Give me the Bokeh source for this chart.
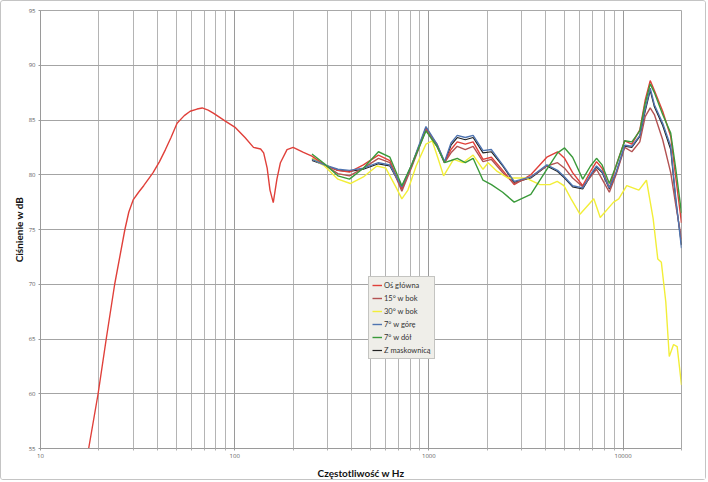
from bokeh.plotting import figure
from bokeh.models import FixedTicker, NumeralTickFormatter, Legend, LegendItem
from bokeh.embed import file_html
from bokeh.resources import INLINE

# ---------------- data ----------------
SERIES_NAMES = ["Oś główna", "15° w bok", "30° w bok", "7° w górę", "7° w dół", "Z maskownicą"]
SERIES_COLORS = ["#e0403a", "#b35252", "#f2ee38", "#4f74b0", "#3a9a3a", "#222222"]

FREQ_MAIN_LOW = [17.7, 19.8, 21.8, 24.1, 27.2, 28.5, 30, 32, 34, 38, 41, 44, 47, 50.5, 55, 59, 64, 68, 73, 78,
                 89.5, 101, 113, 125, 136, 141, 147, 152, 158, 165, 172, 186, 200, 226]
DB_MAIN_LOW = [55, 60, 65, 70, 75, 76.6, 77.7, 78.4, 79.0, 80.2, 81.2, 82.3, 83.4, 84.7, 85.4, 85.8, 86.0, 86.1, 85.9, 85.6,
               84.9, 84.3, 83.4, 82.5, 82.35, 82.0, 80.6, 78.6, 77.45, 79.6, 81.1, 82.3, 82.5, 82.05]

FREQ_HI = [250, 290, 340, 390, 460, 550, 630, 726, 820, 966, 1100, 1205, 1300, 1400, 1540, 1690,
           1900, 2100, 2400, 2750, 3350, 4050, 4600, 5000, 5500, 6200, 6800, 7300, 7800, 8500, 9200,
           10200, 11100, 12200, 13000, 13800, 14500, 16000, 17600, 18700, 20000]
DB_MAIN_HI = [81.7, 80.9, 80.4, 80.25, 80.9, 81.8, 81.3, 78.7, 81.0, 84.2, 82.8, 81.1, 82.3, 83.0, 82.8, 83.0,
              81.4, 81.6, 80.4, 79.1, 80.0, 81.6, 82.1, 81.5, 80.2, 79.0, 80.3, 81.2, 80.6, 78.8, 80.8,
              83.1, 82.8, 84.1, 86.8, 88.6, 87.7, 85.8, 83.5, 79.7, 75.6]
DB_15 = [81.5, 80.9, 80.1, 79.9, 80.6, 81.5, 81.1, 78.5, 80.8, 84.1, 82.6, 81.1, 82.0, 82.6, 82.3, 82.6,
         81.2, 81.4, 80.2, 79.2, 79.8, 80.8, 81.1, 80.6, 79.7, 78.9, 79.8, 80.5, 79.6, 78.4, 80.0,
         82.5, 82.1, 83.0, 85.3, 86.1, 85.5, 83.2, 80.2, 77.2, 74.1]
DB_UP = [81.4, 80.9, 80.5, 80.4, 80.6, 81.1, 80.9, 78.9, 81.0, 84.4, 82.8, 81.2, 82.9, 83.6, 83.4, 83.6,
         82.2, 82.3, 80.9, 79.4, 79.8, 80.9, 80.4, 79.8, 79.0, 78.8, 80.0, 80.8, 80.3, 78.8, 80.2,
         82.7, 82.6, 83.6, 86.0, 87.9, 86.4, 84.7, 82.6, 77.8, 73.3]
DB_DOWN = [81.9, 81.0, 79.9, 79.6, 80.6, 82.1, 81.6, 79.0, 81.0, 84.0, 82.6, 81.1, 81.3, 81.5, 81.1, 81.5,
           79.5, 79.1, 78.4, 77.5, 78.2, 80.5, 82.0, 82.45, 81.6, 79.6, 80.8, 81.5, 80.9, 79.2, 80.8,
           83.1, 83.0, 84.0, 86.5, 88.3, 87.5, 85.5, 83.8, 80.5, 76.5]
DB_GRILLE = [81.3, 80.9, 80.4, 80.3, 80.5, 81.0, 80.8, 78.8, 80.9, 84.3, 82.7, 81.1, 82.7, 83.4, 83.2, 83.4,
             82.0, 82.1, 80.8, 79.3, 79.7, 80.8, 80.3, 79.7, 78.9, 78.7, 79.9, 80.7, 80.2, 78.7, 80.1,
             82.6, 82.5, 83.5, 85.8, 87.7, 86.2, 84.5, 82.3, 77.6, 73.6]

FREQ_30 = [250, 290, 340, 394, 460, 540, 600, 680, 726, 780, 860, 966, 1040, 1110, 1191, 1340, 1500, 1690,
           1900, 2020, 2250, 2560, 3170, 3730, 4200, 4580, 4960, 5400, 6000, 7070, 7630, 8940, 9500,
           10450, 12070, 13200, 14290, 15100, 15750, 16600, 17300, 18200, 19000, 20000]
DB_30 = [81.5, 80.8, 79.6, 79.2, 79.8, 80.8, 80.6, 78.8, 77.8, 78.6, 80.8, 82.8, 83.1, 81.6, 79.9, 81.4, 81.1, 81.8,
         80.5, 81.1, 80.3, 79.7, 79.7, 79.1, 79.1, 79.4, 79.0, 77.8, 76.4, 77.8, 76.1, 77.5, 77.8,
         79.0, 78.6, 79.5, 76.0, 72.3, 72.0, 68.4, 63.4, 64.5, 64.3, 60.8]

Y_TICKS = [55, 60, 65, 70, 75, 80, 85, 90, 95]
X_TICKS = [10, 100, 1000, 10000]
X_MINOR = [m * d for d in (10, 100, 1000) for m in range(2, 10)] + [20000]

X_LABEL = "Częstotliwość w Hz"
Y_LABEL = "Ciśnienie w dB"

# ---------------- figure ----------------
p = figure(width=706, height=480, x_axis_type="log", x_range=(10, 20000), y_range=(55, 95),
           output_backend="svg", toolbar_location=None,
           min_border_left=39, min_border_right=26, min_border_top=9, min_border_bottom=30)
p.styles = {"border": "1px solid #c4c4c4", "border-radius": "3px"}
p.background_fill_color = "white"
p.border_fill_color = "white"
p.outline_line_color = "#a8a8a8"

p.xaxis.ticker = FixedTicker(ticks=X_TICKS, minor_ticks=X_MINOR)
p.yaxis.ticker = FixedTicker(ticks=Y_TICKS)
p.xaxis.formatter = NumeralTickFormatter(format="0")

for ax in (p.xaxis[0], p.yaxis[0]):
    ax.axis_line_color = "#9a9a9a"
    ax.major_tick_line_color = "#9a9a9a"
    ax.minor_tick_line_color = "#b0b0b0"
    ax.major_tick_in = 0
    ax.minor_tick_in = 0
    ax.major_tick_out = 2
    ax.minor_tick_out = 2
    ax.major_label_text_font = "Open Sans"
    ax.major_label_text_font_size = "6px"
    ax.major_label_text_color = "#606060"
    ax.major_label_standoff = 3
    ax.axis_label_text_font = "Lato"
    ax.axis_label_text_font_style = "bold"
    ax.axis_label_text_font_size = "10px"
    ax.axis_label_text_color = "#111111"
p.yaxis.minor_tick_out = 0
p.xaxis.axis_label_standoff = 6
p.yaxis.axis_label_standoff = 1
p.xaxis.axis_label = X_LABEL
p.yaxis.axis_label = Y_LABEL

p.xgrid.grid_line_color = "#9a9a9a"
p.xgrid.minor_grid_line_color = "#b4b4b4"
p.ygrid.grid_line_color = "#a4a4a4"

lw = 1.4
r_grille = p.line(FREQ_HI, DB_GRILLE, line_color=SERIES_COLORS[5], line_width=1.2)
r_main = p.line(FREQ_MAIN_LOW + FREQ_HI, DB_MAIN_LOW + DB_MAIN_HI, line_color=SERIES_COLORS[0], line_width=lw)
r_15 = p.line(FREQ_HI, DB_15, line_color=SERIES_COLORS[1], line_width=lw)
r_30 = p.line(FREQ_30, DB_30, line_color=SERIES_COLORS[2], line_width=lw)
r_up = p.line(FREQ_HI, DB_UP, line_color=SERIES_COLORS[3], line_width=lw)
r_down = p.line(FREQ_HI, DB_DOWN, line_color=SERIES_COLORS[4], line_width=lw)

renderers = [r_main, r_15, r_30, r_up, r_down, r_grille]
items = [LegendItem(label=n, renderers=[r]) for n, r in zip(SERIES_NAMES, renderers)]
legend = Legend(items=items, location=(328, 89), orientation="vertical",
                background_fill_color="#efeee9", background_fill_alpha=1,
                border_line_color="#9a9a9a", border_line_width=1,
                label_text_font="Lato", label_text_font_size="7.5px", label_text_color="#333333",
                glyph_width=10, glyph_height=10, label_height=10, label_standoff=2,
                spacing=3, padding=3, margin=0)
p.add_layout(legend)

open("out.html", "w").write(file_html(p, INLINE))
